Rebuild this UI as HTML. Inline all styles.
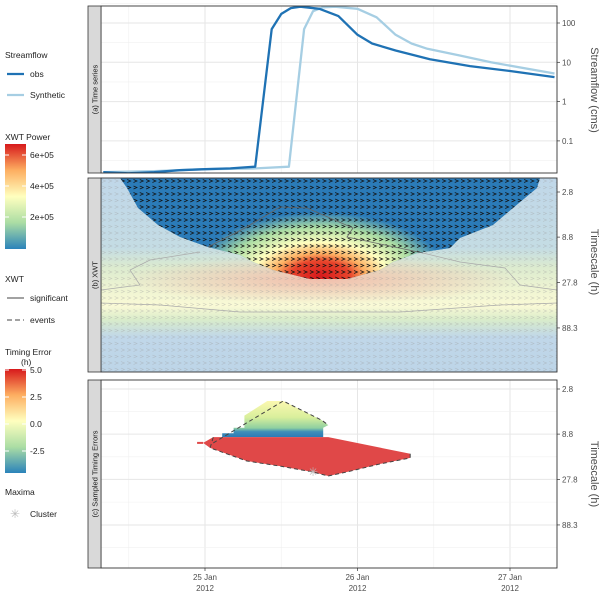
<!DOCTYPE html>
<html><head><meta charset="utf-8">
<style>
body{margin:0;background:#fff;}
svg{display:block;font-family:"Liberation Sans",sans-serif;}
</style></head>
<body>
<svg id="chart" width="600" height="595" viewBox="0 0 600 595">
<defs>
 <linearGradient id="powerBar" x1="0" y1="0" x2="0" y2="1">
  <stop offset="0" stop-color="#d7191c"/><stop offset="0.25" stop-color="#fdae61"/>
  <stop offset="0.5" stop-color="#ffffbf"/><stop offset="0.75" stop-color="#abdda4"/>
  <stop offset="1" stop-color="#2b83ba"/></linearGradient>
 <linearGradient id="fadeBg" x1="0" y1="178" x2="0" y2="372" gradientUnits="userSpaceOnUse">
  <stop offset="0" stop-color="#c0d7e9"/><stop offset="0.36" stop-color="#c4dce4"/>
  <stop offset="0.46" stop-color="#dcebcf"/><stop offset="0.57" stop-color="#eef4d2"/>
  <stop offset="0.66" stop-color="#fafad6"/><stop offset="0.73" stop-color="#d9ecca"/>
  <stop offset="0.82" stop-color="#c0d7e9"/><stop offset="1" stop-color="#bdd5e8"/></linearGradient>
 <radialGradient id="pinkBlob" cx="320" cy="280" r="200" gradientUnits="userSpaceOnUse" gradientTransform="translate(320 280) scale(1 0.12) translate(-320 -280)">
  <stop offset="0" stop-color="#f3b9a8" stop-opacity="0.9"/><stop offset="1" stop-color="#f3b9a8" stop-opacity="0"/></radialGradient>
 <radialGradient id="coreBlob" cx="320" cy="276" r="150" gradientUnits="userSpaceOnUse" gradientTransform="translate(320 276) scale(1 0.5) translate(-320 -276)">
  <stop offset="0" stop-color="#d7191c"/><stop offset="0.2" stop-color="#e8452c"/>
  <stop offset="0.3" stop-color="#fdae61"/><stop offset="0.45" stop-color="#ffffbf"/>
  <stop offset="0.65" stop-color="#abdda4"/><stop offset="0.85" stop-color="#2b7bb8"/>
  <stop offset="1" stop-color="#2b7bb8"/></radialGradient>
 <linearGradient id="errGrad" x1="0" y1="401" x2="0" y2="437" gradientUnits="userSpaceOnUse">
  <stop offset="0" stop-color="#fbf8b0"/><stop offset="0.45" stop-color="#d9ef9c"/>
  <stop offset="0.75" stop-color="#8fd0a0"/><stop offset="0.85" stop-color="#3f8fb8"/><stop offset="1" stop-color="#2c7bb6"/></linearGradient>
 <pattern id="arrGray" x="101" y="178" width="6.3" height="6.5" patternUnits="userSpaceOnUse">
  <path d="M1,1.5 L4.5,3 L1,4.5" fill="none" stroke="#9a9a9a" stroke-width="0.6"/></pattern>
 <pattern id="arrBlack" x="101" y="178" width="6.3" height="6.5" patternUnits="userSpaceOnUse">
  <path d="M1,1.5 L4.5,3 L1,4.5" fill="none" stroke="#111" stroke-width="0.7"/></pattern>
 <clipPath id="clipA"><rect x="101" y="6" width="456" height="167"/></clipPath>
 <clipPath id="clipB"><rect x="101" y="178" width="456" height="194"/></clipPath>
 <clipPath id="clipCoi"><polygon points="120,178 127,188 138,208 158,225 180,237 208,247 240,255 253,262 273,270 310,279 347,279 380,270 393,262 417,253 450,248 460,238 493,225 513,208 537,188 540,178"/></clipPath>
</defs>
<g id="legend" font-size="8.5" fill="#222"></g>
<g id="panels"></g>
</svg>
<script>
// ---- data ----
const obsHours=[-16,-12,-8,-4,0,4,7.9,10.5,12,13.5,15,18,21,24,26.3,30,35.4,41.7,48,55];
const obsFlow=[0.016,0.015,0.016,0.018,0.019,0.02,0.022,70,170,240,260,230,150,50,30,20,12,8,6,4.2];
const synHours=[-16,-8,0,8,13.2,15.6,17,18.5,20.5,24,27,30,32.5,35,40,45,55];
const synFlow=[0.016,0.017,0.019,0.02,0.022,70,200,250,260,230,140,50,30,22,15,10,5.2];
const dayTicks=[0,24,48];
const dayLabels=["25 Jan","26 Jan","27 Jan"];
const flowTicks=[0.1,1,10,100];
const flowLabels=["0.1","1","10","100"];
const scaleTicks=[2.8,8.8,27.8,88.3];
const scaleLabels=["2.8","8.8","27.8","88.3"];
// timing-error regions (hours, timescale h)
const redHours=[-0.3,1.3,19.4,32.3,32.3,27.5,22.3,19.4,17.0,11.8,6.6,0.8];
const redScale=[11.0,9.5,9.5,14.5,16.1,18.8,23.0,25.5,23.0,19.8,17.4,12.5];
const topHours=[2.7,2.7,4.5,4.5,6.2,6.2,9.8,12.3,18.4,19.4,18.6,18.6];
const topScale=[9.5,8.6,8.6,7.5,7.5,5.5,3.8,3.8,6.2,7.0,7.5,9.5];
const evHours=[1.3,12.3,18.4,19.4];
const evScale=[11.0,3.8,6.2,7.0];
const maxHours=[17.0];
const maxScale=[23.0];
// ---- scales ----
const X=h=>205+h/24*152.5;
const YA=v=>23+(2-Math.log10(v))*39.3;
const YB=s=>192+90.7*Math.log10(s/2.8);
const YC=s=>389+90.7*Math.log10(s/2.8);
const NS="http://www.w3.org/2000/svg";
const P=document.getElementById('panels');
function el(tag,attrs,parent,text){const e=document.createElementNS(NS,tag);for(const k in attrs)e.setAttribute(k,attrs[k]);if(text!==undefined)e.textContent=text;(parent||P).appendChild(e);return e;}
const minorX=[X(-12),X(12),X(36)];
function strip(y0,y1,label,nm){
 const s=el('rect',{x:88,y:y0,width:13,height:y1-y0,fill:'#d9d9d9',stroke:'#333','stroke-width':0.8});
 
 const t=el('text',{x:0,y:0,'font-size':7.5,fill:'#1a1a1a','text-anchor':'middle',transform:`translate(97.5,${(y0+y1)/2}) rotate(-90)`},P,label);
 
}
function frame(y0,y1,nm){const r=el('rect',{x:101,y:y0,width:456,height:y1-y0,fill:'none',stroke:'#333','stroke-width':0.9});}
function rightTicks(vals,labels,yf,nm){vals.forEach((v,i)=>{const y=yf(v);el('line',{x1:557,x2:560,y1:y,y2:y,stroke:'#333','stroke-width':0.7});
 const t=el('text',{x:562,y:y+3,'font-size':8,fill:'#4d4d4d'},P,labels[i]);});}
function grid(y0,y1,yVals,yMinor){
 minorX.forEach(x=>el('line',{x1:x,x2:x,y1:y0,y2:y1,stroke:'#f0f0f0','stroke-width':0.6}));
 dayTicks.forEach(h=>el('line',{x1:X(h),x2:X(h),y1:y0,y2:y1,stroke:'#e6e6e6','stroke-width':1}));
 yMinor.forEach(y=>el('line',{x1:101,x2:557,y1:y,y2:y,stroke:'#f0f0f0','stroke-width':0.6}));
 yVals.forEach(y=>el('line',{x1:101,x2:557,y1:y,y2:y,stroke:'#e6e6e6','stroke-width':1}));
}
// ---- panel a ----
el('rect',{x:101,y:6,width:456,height:167,fill:'#fff'});
grid(6,173,flowTicks.map(YA),flowTicks.map(v=>YA(v*3.16)).concat([YA(0.0316)]));
const gA=el('g',{'clip-path':'url(#clipA)'});
function line(hours,vals,color,nm){const d=hours.map((h,i)=>(i?'L':'M')+X(h).toFixed(1)+','+YA(vals[i]).toFixed(1)).join(' ');
 const p=el('path',{d:d,fill:'none',stroke:color,'stroke-width':2.3,'stroke-linejoin':'round'},gA);}
line(synHours,synFlow,'#a6cee3','synthetic-line');
line(obsHours,obsFlow,'#1f72b4','obs-line');
frame(6,173,'time-series');strip(6,173,'(a)  Time series','time-series');
rightTicks(flowTicks,flowLabels,YA,'streamflow');
let tt=el('text',{x:0,y:0,'font-size':11,fill:'#4d4d4d','text-anchor':'middle',transform:'translate(591,90) rotate(90)'},P,'Streamflow (cms)');

// ---- panel b ----
const gB=el('g',{'clip-path':'url(#clipB)'});

el('rect',{x:101,y:178,width:456,height:194,fill:'url(#fadeBg)'},gB);
el('rect',{x:101,y:250,width:456,height:60,fill:'url(#pinkBlob)'},gB);
el('rect',{x:101,y:178,width:456,height:194,fill:'url(#arrGray)',opacity:0.45},gB);
const gCoi=el('g',{'clip-path':'url(#clipCoi)'},gB);
el('rect',{x:101,y:178,width:456,height:110,fill:'#2b7bb8'},gCoi);
el('ellipse',{cx:320,cy:276,rx:150,ry:75,fill:'url(#coreBlob)'},gCoi);
el('rect',{x:101,y:178,width:456,height:110,fill:'url(#arrBlack)'},gCoi);
let c1=el('path',{d:'M208,247 L245,228 L280,207 L307,208 L353,228 L347,237 L385,245 L423,253',fill:'none',stroke:'#666','stroke-width':0.8},gB);

el('path',{d:'M200,252 L150,260 L130,270 L140,285 L101,290 M423,253 L460,262 L505,268 L520,285 L557,290 M101,303 L160,305 L240,312 L400,312 L500,305 L557,303',fill:'none',stroke:'#aaa','stroke-width':0.7},gB);
frame(178,372,'xwt');strip(178,372,'(b)  XWT','xwt');
rightTicks(scaleTicks,scaleLabels,YB,'xwt-scale');
tt=el('text',{x:0,y:0,'font-size':11,fill:'#4d4d4d','text-anchor':'middle',transform:'translate(591,262) rotate(90)'},P,'Timescale (h)');

// ---- panel c ----
grid(380,568,scaleTicks.map(YC),scaleTicks.map(s=>YC(s*1.78)));
const pts=(hs,ss)=>hs.map((h,i)=>X(h).toFixed(1)+','+YC(ss[i]).toFixed(1)).join(' ');
let tp=el('polygon',{points:pts(topHours,topScale),fill:'url(#errGrad)'});

let rp=el('polygon',{points:pts(redHours,redScale),fill:'#e04848'});

el('line',{x1:X(-0.3)-6,x2:X(-0.3),y1:YC(11),y2:YC(11),stroke:'#e04848','stroke-width':2});
const redOut=redHours.slice(1).map((h,i)=>X(h).toFixed(1)+','+YC(redScale[i+1]).toFixed(1));
let ev=el('polyline',{points:redOut.slice(2).join(' ')+' '+redOut[0],fill:'none',stroke:'#444','stroke-width':1,'stroke-dasharray':'4,3'});

el('polyline',{points:pts(evHours,evScale),fill:'none',stroke:'#444','stroke-width':1,'stroke-dasharray':'4,3'});
maxHours.forEach((h,i)=>{const m=el('text',{x:X(h),y:YC(maxScale[i])+4,'font-size':12,fill:'#bbb','text-anchor':'middle'},P,'✳');});
frame(380,568,'timing-errors');strip(380,568,'(c) Sampled Timing Errors','timing-errors');
rightTicks(scaleTicks,scaleLabels,YC,'timing-scale');
tt=el('text',{x:0,y:0,'font-size':11,fill:'#4d4d4d','text-anchor':'middle',transform:'translate(591,474) rotate(90)'},P,'Timescale (h)');

dayTicks.forEach((h,i)=>{const x=X(h);el('line',{x1:x,x2:x,y1:568,y2:571,stroke:'#333','stroke-width':0.7});
 const a=el('text',{x:x,y:580,'font-size':8,fill:'#4d4d4d','text-anchor':'middle'},P,dayLabels[i]);
 const b=el('text',{x:x,y:591,'font-size':8,fill:'#4d4d4d','text-anchor':'middle'},P,'2012');});
// ---- legend ----
const L=document.getElementById('legend');
function lt(x,y,s,nm,size){const t=el('text',{x:x,y:y,'font-size':size||8.5},L,s);return t;}
lt(5,58,'Streamflow','legend-title-streamflow');
el('line',{x1:7,x2:24,y1:74,y2:74,stroke:'#1f72b4','stroke-width':2.2},L);lt(30,77,'obs','legend-obs');
el('line',{x1:7,x2:24,y1:95,y2:95,stroke:'#a6cee3','stroke-width':2.2},L);lt(30,98,'Synthetic','legend-synthetic');
lt(5,140,'XWT Power','legend-title-power');
let pb=el('rect',{x:5,y:144,width:21,height:105,fill:'url(#powerBar)'},L);
[['6e+05',155],['4e+05',186],['2e+05',217]].forEach(a=>{el('line',{x1:5,x2:9,y1:a[1],y2:a[1],stroke:'#fff'},L);el('line',{x1:22,x2:26,y1:a[1],y2:a[1],stroke:'#fff'},L);lt(30,a[1]+3,a[0],'power-tick-label');});
lt(5,282,'XWT','legend-title-xwt');
el('line',{x1:7,x2:24,y1:298,y2:298,stroke:'#444','stroke-width':1},L);lt(30,301,'significant','legend-significant');
el('line',{x1:7,x2:24,y1:320,y2:320,stroke:'#444','stroke-width':1,'stroke-dasharray':'5,3'},L);lt(30,323,'events','legend-events');
lt(5,355,'Timing Error','legend-title-timing');lt(21,365,'(h)','legend-title-timing-unit');
let tb=el('rect',{x:5,y:369,width:21,height:104,fill:'url(#powerBar)'},L);
[['5.0',370],['2.5',397],['0.0',424],['-2.5',451]].forEach(a=>{el('line',{x1:5,x2:9,y1:a[1],y2:a[1],stroke:'#fff'},L);el('line',{x1:22,x2:26,y1:a[1],y2:a[1],stroke:'#fff'},L);lt(30,a[1]+3,a[0],'timing-tick-label');});
lt(5,495,'Maxima','legend-title-maxima');
let st=el('text',{x:15,y:518,'font-size':12,fill:'#bbb','text-anchor':'middle'},L,'✳');
lt(30,517,'Cluster','legend-cluster');
</script>
</body></html>
